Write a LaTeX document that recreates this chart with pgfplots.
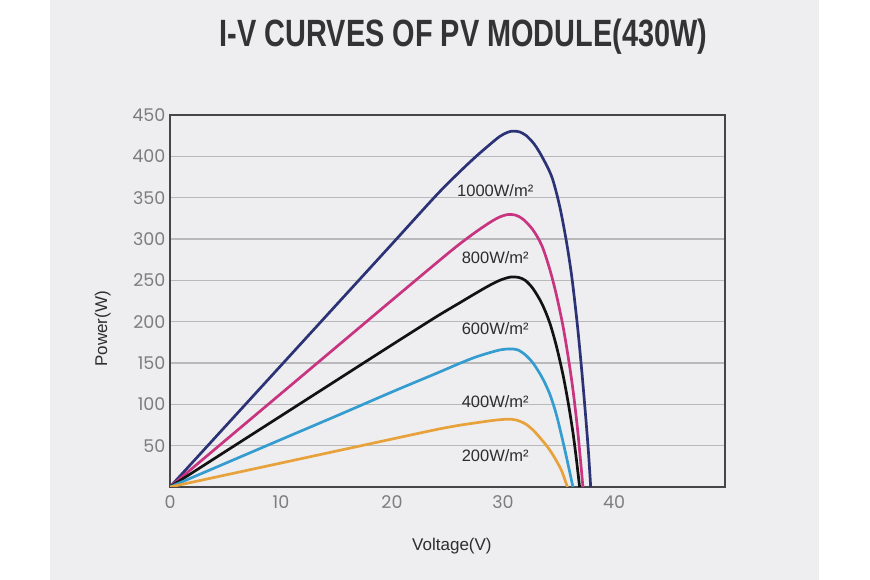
\documentclass[border=0pt]{standalone}
\usepackage{fontspec}
\setmainfont{Liberation Sans}
\newfontfamily\tickfont{Poppins}
\usepackage{graphicx}
\usepackage{pgfplots}
\pgfplotsset{compat=1.18}
\definecolor{panel}{RGB}{238,238,240}
\definecolor{titlecol}{RGB}{51,51,53}
\definecolor{tickcol}{RGB}{125,125,127}
\definecolor{gridcol}{RGB}{185,185,188}
\definecolor{framecol}{RGB}{70,70,72}
\definecolor{labcol}{RGB}{45,45,47}
\definecolor{cnavy}{RGB}{44,50,118}
\definecolor{cpink}{RGB}{200,52,128}
\definecolor{cblack}{RGB}{18,18,18}
\definecolor{ccyan}{RGB}{52,156,206}
\definecolor{corange}{RGB}{232,162,60}

\pgfplotstableread{
V P
0 0
5 73.5
10 147
15 220.5
20 294
24 353
26 380
27.5 399
28.7 413
29.7 424
30.4 429
30.9 430.5
31.5 429.5
32.1 425
32.8 415
33.5 400
34.4 375
35.1 340
35.7 298
36.2 254
36.7 196
37.1 140
37.45 85
37.7 42
37.9 0
}\tblue
\pgfplotstableread{
V P
0 0
5 56.5
10 113
15 169.5
20 226
24 271
26 293
27.5 308
28.7 319
29.6 326
30.4 329.5
31.1 329
31.8 324
32.7 311
33.5 292
34.2 264
34.8 233
35.4 195
35.9 155
36.3 118
36.7 72
37.0 30
37.2 0
}\tpink
\pgfplotstableread{
V P
0 0
5 43
10 86
15 129
20 172
24 206
26 222
27.5 234
28.8 244
29.8 250.5
30.7 254
31.4 253.5
32.0 250
32.7 240
33.5 222
34.2 199
34.8 171
35.4 136
35.9 100
36.3 66
36.6 35
36.9 0
}\tblack
\pgfplotstableread{
V P
0 0
5 28.7
10 57.4
15 86
20 115
24 137.5
26 149
27.5 157
28.8 162.5
29.8 166
30.6 167
31.3 166
32.0 160
32.7 150
33.5 133
34.2 113
34.8 88
35.4 55
35.9 25
36.3 0
}\tcyan
\pgfplotstableread{
V P
0 0
5 14.5
10 29
15 43.5
20 58
24 69.5
26 74.5
27.5 77.5
28.8 80
29.8 81.5
30.5 82
31.2 81
32.0 76.5
32.7 69
33.5 57
34.2 45
34.8 32
35.3 19
35.8 0
}\torange

\begin{document}
\begin{tikzpicture}[x=1pt,y=1pt]
\fill[white] (0,0) rectangle (870,580);
\fill[panel] (50,0) rectangle (819,580);
\node[anchor=base, text=titlecol, font=\fontsize{38}{40}\selectfont\bfseries, inner sep=0pt] at (463.5,533.3) {\scalebox{0.76}[1]{I-V CURVES OF PV MODULE(430W)}};
\begin{axis}[
  at={(170pt,93pt)}, anchor=south west,
  scale only axis, width=555pt, height=372pt,
  xmin=0, xmax=50, ymin=0, ymax=450,
  xtick={0,10,20,30,40}, ytick={50,100,...,450},
  ymajorgrids, grid style={color=gridcol, line width=1.2pt},
  axis line style={draw=framecol, line width=2pt},
  major tick length=0pt,
  tick label style={font=\tickfont\fontsize{17.5}{18}\selectfont, text=tickcol},
  /pgf/number format/assume math mode=true,
  xticklabel style={yshift=-5pt},
  yticklabel style={xshift=-1pt},
  axis background/.style={fill=panel},
  xlabel={Voltage(V)}, ylabel={Power(W)},
  label style={font=\fontsize{17}{17}\selectfont, text=labcol},
  xlabel style={at={(axis description cs:0.508,-0.158)}, anchor=center},
  ylabel style={at={(axis description cs:-0.121,0.425)}, anchor=center, rotate=0},
  every axis plot/.append style={line width=2.7pt, smooth, no markers},
]
\addplot[cnavy] table[x=V,y=P] {\tblue};
\addplot[cpink] table[x=V,y=P] {\tpink};
\addplot[cblack] table[x=V,y=P] {\tblack};
\addplot[ccyan] table[x=V,y=P] {\tcyan};
\addplot[corange] table[x=V,y=P] {\torange};
\begin{scope}[every node/.style={font=\fontsize{16.5}{17}\selectfont, text=labcol, inner sep=0pt}]
\node at (axis cs:29.3,358.5) {1000W/m²};
\node at (axis cs:29.3,277) {800W/m²};
\node at (axis cs:29.3,192) {600W/m²};
\node at (axis cs:29.3,103) {400W/m²};
\node at (axis cs:29.3,37.5) {200W/m²};
\end{scope}
\end{axis}
\pgfresetboundingbox
\useasboundingbox (0,0) rectangle (870,580);
\end{tikzpicture}
\end{document}
